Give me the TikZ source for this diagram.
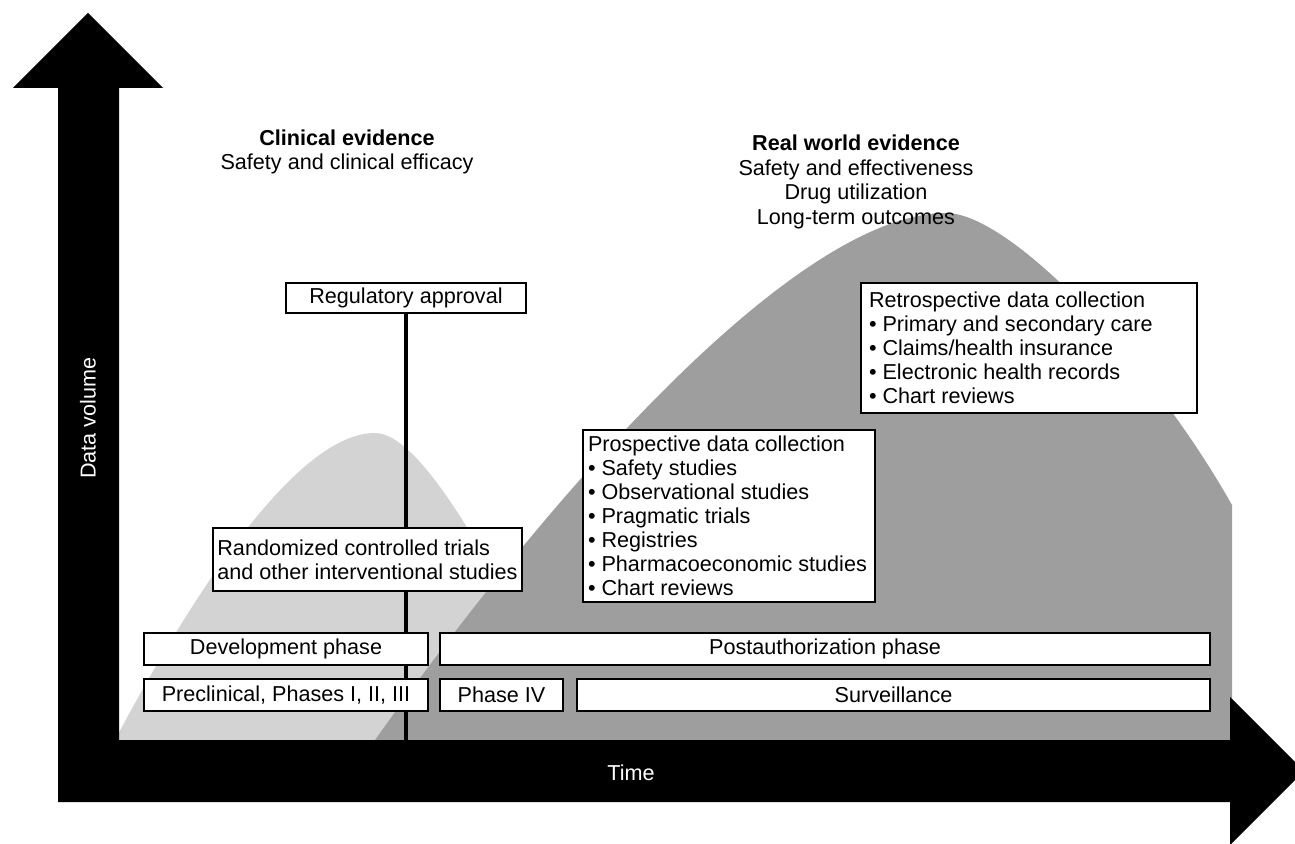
\documentclass[tikz,border=0pt]{standalone}
\usepackage{fontspec}
\setmainfont{Liberation Sans}
\definecolor{lightarea}{HTML}{D3D3D3}
\definecolor{darkarea}{HTML}{9E9E9E}

\begin{document}
\begin{tikzpicture}[x=0.5pt, y=-0.5pt, font=\fontsize{10.8}{12}\selectfont, box/.style={draw, line width=1pt, fill=white, inner sep=2pt}, phase/.style={box, minimum height=16pt}, list/.style={box, align=flush left, inner xsep=2.5pt, execute at begin node={\hyphenpenalty=10000}}]
		\useasboundingbox (0,0) rectangle (1295,844);

		\fill[lightarea] (115,740) .. controls (200,580) and (300,433) .. (375,433) .. controls (430,433) and (520,620) .. (580,740) -- cycle;
		\fill[darkarea] (375,740) .. controls (560,480) and (800,213) .. (946,213) .. controls (1010,213) and (1150,360) .. (1232,505) -- (1232,740) -- cycle;
		\fill (58,802) -- (58,88) -- (13,88) -- (88,13) -- (163,88) -- (119,88) -- (119,740) -- (1230,740) -- (1230,697) -- (1304,771) -- (1230,845) -- (1230,802) -- cycle;

		\node[white, rotate=90] (ylabel) at (88,418) {Data volume};
		\node[white] (xlabel) at (631,773) {Time};

		\node[align=center] (clin) at (347,152) {\textbf{Clinical evidence}\\Safety and clinical efficacy};
		\node[align=center, font=\fontsize{10.8}{12.35}\selectfont] (rwe) at (856,182) {\textbf{Real world evidence}\\Safety and effectiveness\\Drug utilization\\Long-term outcomes};

		\node[box, minimum width=120pt, minimum height=15pt] (reg) at (406,298) {Regulatory approval};
		\coordinate (tbase) at (406,740);
		\draw[line width=2pt] (reg) -- (tbase);

		\node[box, align=left, minimum width=152.5pt, minimum height=31.5pt] (rct) at (367.5,559.5) {Randomized controlled trials\\and other interventional studies};
		\node[phase, minimum width=142pt] (dev) at (286,649) {Development phase};
		\node[phase, minimum width=142pt] (pre) at (286,695) {Preclinical, Phases I, II, III};
		\node[phase, minimum width=385pt] (post) at (825,649) {Postauthorization phase};
		\node[phase, minimum width=61.5pt] (p4) at (501.5,695) {Phase IV};
		\node[phase, minimum width=316.5pt] (surv) at (893.5,695) {Surveillance};

		\node[list, text width=141pt, minimum height=86pt] (pros) at (729,516) {Prospective data collection\\• Safety studies\\• Observational studies\\• Pragmatic trials\\• Registries\\• Pharmacoeconomic studies\\• Chart reviews};
		\node[list, inner xsep=4pt, text width=160pt, minimum height=65pt] (retro) at (1029,348) {Retrospective data collection\\• Primary and secondary care\\• Claims/health insurance\\• Electronic health records\\• Chart reviews};
	\end{tikzpicture}
\end{document}
